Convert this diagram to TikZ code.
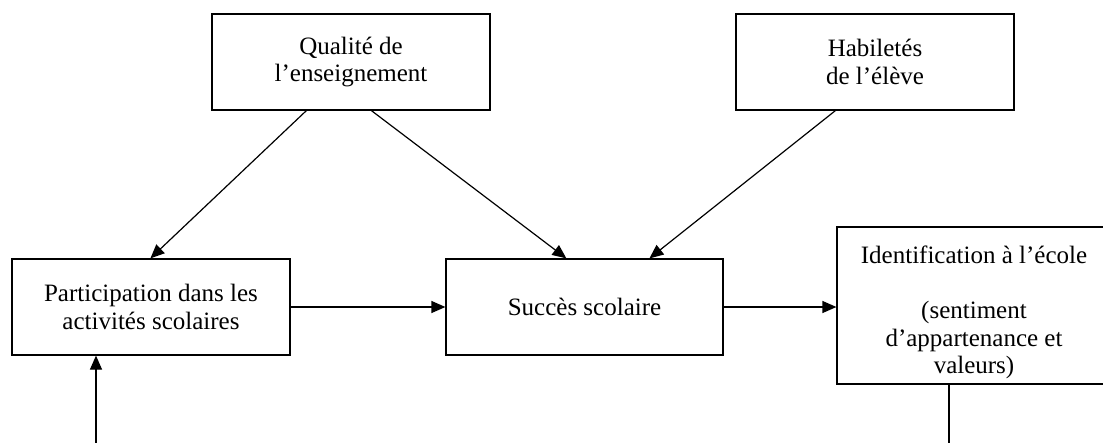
\documentclass[tikz,border=0pt]{standalone}
\usepackage{fontspec}
\setmainfont{Liberation Serif}
\usetikzlibrary{arrows.meta,calc}
\begin{document}
\begin{tikzpicture}[x=1pt,y=-1pt,
  boxnode/.style={draw, line width=1.2pt, inner sep=0pt, align=center,
    font=\fontsize{25}{27.5}\selectfont},
  conn/.style={line width=1.2pt, -{Triangle[length=14pt,width=12pt]}},
  plainline/.style={line width=1.2pt}]
\useasboundingbox (0,0) rectangle (1103,442);
\clip (0,0) rectangle (1103,442);
\node[boxnode, minimum width=278pt, minimum height=96pt] (qual) at (351,62)
  {Qualité de\\l’enseignement};
\node[boxnode, minimum width=278pt, minimum height=96pt] (hab) at (875,62)
  {Habiletés\\de l’élève};
\node[boxnode, minimum width=278pt, minimum height=96pt] (part) at (151,307)
  {Participation dans les\\activités scolaires};
\node[boxnode, minimum width=277pt, minimum height=96pt] (succ) at (584.5,307)
  {Succès scolaire};
\node[boxnode, minimum width=274pt, minimum height=157pt] (ident) at (974,305.5)
  {\rule{0pt}{32pt}Identification à l’école\\[27.5pt](sentiment\\d’appartenance et\\valeurs)};
\draw[conn] ($(qual.south west)+(95,0)$) -- ($(part.north west)+(139,0)$);
\draw[conn] ($(qual.south west)+(160,0)$) -- ($(succ.north west)+(121,0)$);
\draw[conn] ($(hab.south west)+(100,0)$) -- ($(succ.north west)+(204,0)$);
\draw[conn] (part.east) -- (succ.west);
\draw[conn] (succ.east) -- (succ.east -| ident.west);
\coordinate (fbR) at (949,460);
\coordinate (fbL) at (96,460);
\draw[plainline] (fbR |- ident.south) -- (fbR) -- (fbL);
\draw[conn] (fbL) -- (fbL |- part.south);
\end{tikzpicture}
\end{document}
